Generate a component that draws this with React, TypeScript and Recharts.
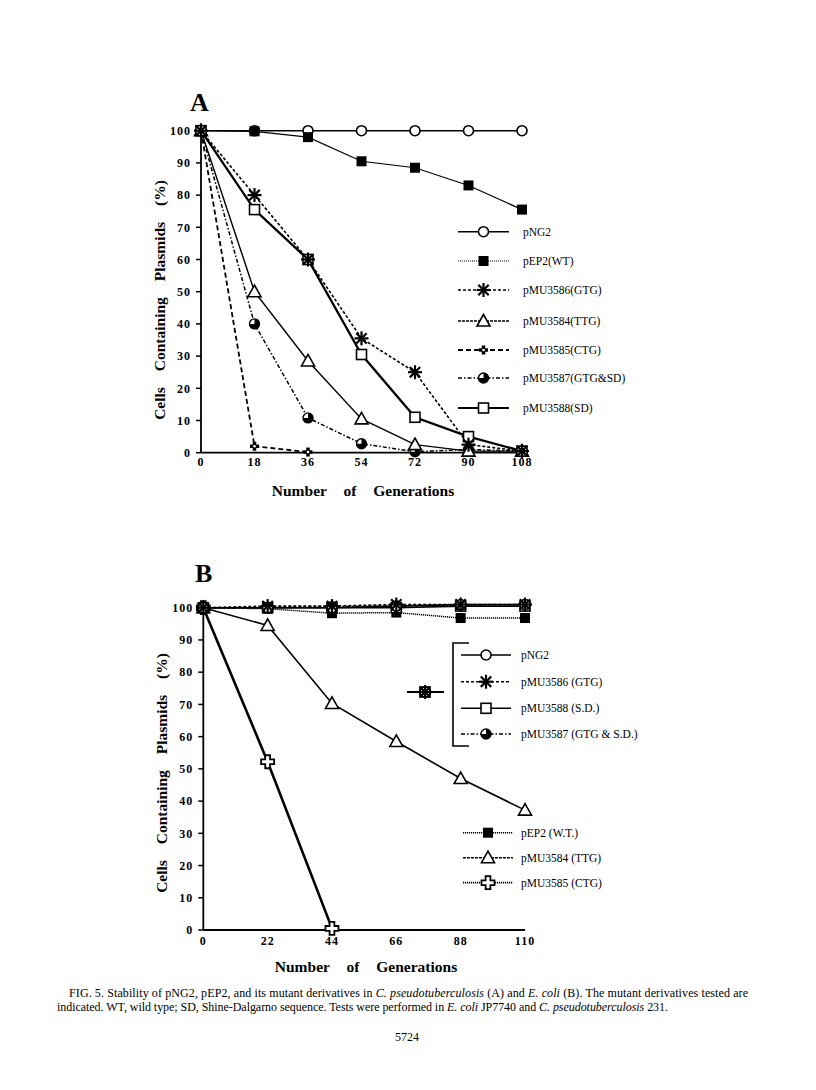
import React from 'react';
import { LineChart, Line, XAxis, YAxis } from 'recharts';

// ---------- DATA ----------
const genA = [0, 18, 36, 54, 72, 90, 108];
const pNG2_A = [100, 100, 100, 100, 100, 100, 100];
const pEP2_A = [100, 99.8, 98, 90.5, 88.5, 83, 75.5];
const pMU3586_A = [100, 80, 60, 35.5, 25, 2.5, 0.5];
const pMU3584_A = [100, 50, 28.5, 10.5, 2.5, 0.5, 0.5];
const pMU3585_A = [100, 2, 0.2, null, null, null, null];
const pMU3587_A = [100, 40, 10.8, 2.8, 0.3, 1, 0.5];
const pMU3588_A = [100, 75.5, 60, 30.5, 11, 5, 0.5];

const genB = [0, 22, 44, 66, 88, 110];
const pNG2_B = [100, 100, 100, 100.5, 101, 101];
const pMU3586_B = [100, 100.5, 100.5, 101, 101, 101];
const pMU3588_B = [100, 100, 100, 100, 100.5, 100.5];
const pMU3587_B = [100, 100, 100.3, 100.5, 100.8, 101];
const pEP2_B = [100, 99.7, 98.3, 98.5, 96.8, 96.8];
const pMU3584_B = [100, 94.5, 70.3, 58.5, 47, 37.2];
const pMU3585_B = [100, 52.2, 0.5, null, null, null];

const yTicks = [0, 10, 20, 30, 40, 50, 60, 70, 80, 90, 100];

const legendA = ['pNG2', 'pEP2(WT)', 'pMU3586(GTG)', 'pMU3584(TTG)', 'pMU3585(CTG)', 'pMU3587(GTG&SD)', 'pMU3588(SD)'];
const legendB1 = ['pNG2', 'pMU3586 (GTG)', 'pMU3588  (S.D.)', 'pMU3587 (GTG & S.D.)'];
const legendB2 = ['pEP2 (W.T.)', 'pMU3584 (TTG)', 'pMU3585 (CTG)'];

// ---------- TABLES ----------
const dataA = genA.map((g, i) => ({
  g,
  pNG2: pNG2_A[i],
  pEP2: pEP2_A[i],
  pMU3586: pMU3586_A[i],
  pMU3584: pMU3584_A[i],
  pMU3585: pMU3585_A[i],
  pMU3587: pMU3587_A[i],
  pMU3588: pMU3588_A[i],
}));
const dataB = genB.map((g, i) => ({
  g,
  pNG2: pNG2_B[i],
  pEP2: pEP2_B[i],
  pMU3586: pMU3586_B[i],
  pMU3584: pMU3584_B[i],
  pMU3585: pMU3585_B[i],
  pMU3587: pMU3587_B[i],
  pMU3588: pMU3588_B[i],
}));

// ---------- STYLES ----------
const FONT = '"Liberation Serif", "DejaVu Serif", serif';

type Style = { shape: string; w: number; dash?: string; legendDash?: string };
const stylesA: Record<string, Style> = {
  pNG2: { shape: 'circle', w: 1.6 },
  pEP2: { shape: 'square', w: 1.2, legendDash: '1 1' },
  pMU3586: { shape: 'star', w: 1.6, dash: '3 2' },
  pMU3584: { shape: 'triangle', w: 1.4, legendDash: '3 1' },
  pMU3585: { shape: 'plusDot', w: 1.8, dash: '5 3' },
  pMU3587: { shape: 'half', w: 1.5, dash: '4 2 1.5 2' },
  pMU3588: { shape: 'osquare', w: 2.3 },
};
const stylesB: Record<string, Style> = {
  pNG2: { shape: 'circle', w: 1.6 },
  pEP2: { shape: 'square', w: 1.5, dash: '1.2 0.8' },
  pMU3586: { shape: 'star', w: 1.6, dash: '3 2' },
  pMU3584: { shape: 'triangle', w: 1.6, legendDash: '3 1' },
  pMU3585: { shape: 'ocross', w: 2.6, legendDash: '1.2 0.8' },
  pMU3587: { shape: 'half', w: 1.5, dash: '4 2 1.5 2' },
  pMU3588: { shape: 'osquare', w: 1.6 },
};

function Marker({ shape, cx, cy }: { shape: string; cx: number; cy: number }) {
  switch (shape) {
    case 'circle':
      return <circle cx={cx} cy={cy} r={5} fill="#fff" stroke="#000" strokeWidth={1.6} />;
    case 'square':
      return <rect x={cx - 5} y={cy - 5} width={10} height={10} fill="#000" />;
    case 'osquare':
      return <rect x={cx - 5} y={cy - 5} width={10} height={10} fill="#fff" stroke="#000" strokeWidth={1.6} />;
    case 'triangle':
      return (
        <polygon
          points={`${cx},${cy - 6.5} ${cx - 6.5},${cy + 5} ${cx + 6.5},${cy + 5}`}
          fill="#fff"
          stroke="#000"
          strokeWidth={1.6}
        />
      );
    case 'star':
      return (
        <g stroke="#000" strokeWidth={2.2} strokeLinecap="butt">
          <line x1={cx} y1={cy - 7} x2={cx} y2={cy + 7} />
          <line x1={cx - 7} y1={cy} x2={cx + 7} y2={cy} />
          <line x1={cx - 5.2} y1={cy - 5.2} x2={cx + 5.2} y2={cy + 5.2} />
          <line x1={cx - 5.2} y1={cy + 5.2} x2={cx + 5.2} y2={cy - 5.2} />
        </g>
      );
    case 'plusDot':
      return (
        <g>
          <line x1={cx - 4.5} y1={cy} x2={cx + 4.5} y2={cy} stroke="#000" strokeWidth={3.5} />
          <line x1={cx} y1={cy - 4.5} x2={cx} y2={cy + 4.5} stroke="#000" strokeWidth={3.5} />
          <circle cx={cx} cy={cy} r={1.3} fill="#fff" />
        </g>
      );
    case 'half':
      return (
        <g>
          <circle cx={cx} cy={cy} r={5} fill="#fff" stroke="#000" strokeWidth={1.4} />
          <path d={`M${cx},${cy} L${cx},${cy - 5} A5,5 0 1 1 ${cx - 5},${cy} Z`} fill="#000" />
        </g>
      );
    case 'ocross': {
      const a = 2.4;
      const L = 6.5;
      return (
        <polygon
          points={`${cx - a},${cy - L} ${cx + a},${cy - L} ${cx + a},${cy - a} ${cx + L},${cy - a} ${cx + L},${cy + a} ${cx + a},${cy + a} ${cx + a},${cy + L} ${cx - a},${cy + L} ${cx - a},${cy + a} ${cx - L},${cy + a} ${cx - L},${cy - a} ${cx - a},${cy - a}`}
          fill="#fff"
          stroke="#000"
          strokeWidth={1.8}
        />
      );
    }
    default:
      return null;
  }
}

const makeDot = (shape: string) => (props: any) => {
  const { cx, cy, index, value } = props;
  if (cx == null || cy == null || value == null || (Array.isArray(value) && value[1] == null)) {
    return <g key={`e-${index}`} />;
  }
  return (
    <g key={`d-${index}`}>
      <Marker shape={shape} cx={cx} cy={cy} />
    </g>
  );
};

const tickStyle = { fontFamily: FONT, fontWeight: 700, fontSize: 12, fill: '#000', letterSpacing: 1 };

function series(key: string, s: Style) {
  return (
    <Line
      key={key}
      type="linear"
      dataKey={key}
      stroke="#000"
      strokeWidth={s.w}
      strokeDasharray={s.dash}
      dot={makeDot(s.shape)}
      activeDot={false}
      connectNulls={false}
      isAnimationActive={false}
    />
  );
}

function LegendRow({ s, x1, x2, y, label, tx }: { s: Style; x1: number; x2: number; y: number; label: string; tx: number }) {
  return (
    <g>
      <line x1={x1} y1={y} x2={x2} y2={y} stroke="#000" strokeWidth={Math.min(s.w, 1.8)} strokeDasharray={s.legendDash ?? s.dash} />
      <Marker shape={s.shape} cx={(x1 + x2) / 2} cy={y} />
      <text x={tx} y={y + 4} fontFamily={FONT} fontSize={11.5} fill="#000">
        {label}
      </text>
    </g>
  );
}

export default function App() {
  const orderA = ['pNG2', 'pEP2', 'pMU3585', 'pMU3587', 'pMU3584', 'pMU3588', 'pMU3586'];
  const orderB = ['pEP2', 'pMU3585', 'pMU3584', 'pMU3588', 'pMU3587', 'pNG2', 'pMU3586'];
  const legendKeysA = ['pNG2', 'pEP2', 'pMU3586', 'pMU3584', 'pMU3585', 'pMU3587', 'pMU3588'];
  const legendYA = [231.7, 261, 290, 321, 350, 378, 408];
  const legendKeysB1 = ['pNG2', 'pMU3586', 'pMU3588', 'pMU3587'];
  const legendYB1 = [655, 681.7, 708.3, 734];
  const legendKeysB2 = ['pEP2', 'pMU3584', 'pMU3585'];
  const legendYB2 = [832.7, 857.7, 882.7];

  return (
    <div style={{ position: 'absolute', left: 0, top: 0, width: 816, height: 1090, background: '#fff' }}>
      <div style={{ position: 'absolute', left: 0, top: 0 }}>
        <LineChart width={816} height={520} data={dataA} margin={{ top: 130.7, right: 294, bottom: 37.3, left: 151 }}>
          <XAxis
            dataKey="g"
            type="number"
            domain={[0, 108]}
            ticks={genA}
            height={30}
            tickSize={0}
            tickMargin={5}
            tickLine={false}
            axisLine={{ stroke: '#000', strokeWidth: 1.8 }}
            tick={tickStyle}
            interval={0}
          />
          <YAxis
            type="number"
            domain={[0, 100]}
            ticks={yTicks}
            width={50}
            tickSize={5}
            tickMargin={5}
            tickLine={{ stroke: '#000', strokeWidth: 1.5 }}
            axisLine={{ stroke: '#000', strokeWidth: 1.8 }}
            tick={tickStyle}
            interval={0}
          />
          {orderA.map((k) => series(k, stylesA[k]))}
        </LineChart>
      </div>
      <div style={{ position: 'absolute', left: 0, top: 540 }}>
        <LineChart width={816} height={460} data={dataB} margin={{ top: 64.5, right: 291, bottom: 40, left: 153.3 }}>
          <XAxis
            dataKey="g"
            type="number"
            domain={[0, 110]}
            ticks={genB}
            height={30}
            tickSize={0}
            tickMargin={6}
            tickLine={false}
            axisLine={{ stroke: '#000', strokeWidth: 1.8 }}
            tick={tickStyle}
            interval={0}
          />
          <YAxis
            type="number"
            domain={[0, 101]}
            ticks={yTicks}
            width={50}
            tickSize={5}
            tickMargin={5}
            tickLine={{ stroke: '#000', strokeWidth: 1.5 }}
            axisLine={{ stroke: '#000', strokeWidth: 1.8 }}
            tick={tickStyle}
            interval={0}
          />
          {orderB.map((k) => series(k, stylesB[k]))}
        </LineChart>
      </div>

      <svg width={816} height={1090} style={{ position: 'absolute', left: 0, top: 0, pointerEvents: 'none' }}>
        {/* Panel letters */}
        <text x={190} y={111} fontFamily={FONT} fontWeight={700} fontSize={26} fill="#000">A</text>
        <text x={195} y={582} fontFamily={FONT} fontWeight={700} fontSize={26} fill="#000">B</text>

        {/* Axis titles A */}
        <text
          x={0}
          y={0}
          transform="translate(165,300) rotate(-90)"
          textAnchor="middle"
          fontFamily={FONT}
          fontWeight={700}
          fontSize={15.5}
          style={{ wordSpacing: 12 }}
          fill="#000"
        >
          Cells Containing Plasmids (%)
        </text>
        <text x={363} y={496} textAnchor="middle" fontFamily={FONT} fontWeight={700} fontSize={15.5} style={{ wordSpacing: 13 }} fill="#000">
          Number of Generations
        </text>

        {/* Axis titles B */}
        <text
          x={0}
          y={0}
          transform="translate(167,773) rotate(-90)"
          textAnchor="middle"
          fontFamily={FONT}
          fontWeight={700}
          fontSize={15.5}
          style={{ wordSpacing: 12 }}
          fill="#000"
        >
          Cells Containing Plasmids (%)
        </text>
        <text x={366} y={972} textAnchor="middle" fontFamily={FONT} fontWeight={700} fontSize={15.5} style={{ wordSpacing: 13 }} fill="#000">
          Number of Generations
        </text>

        {/* Legend A */}
        {legendKeysA.map((k, i) => (
          <LegendRow key={k} s={stylesA[k]} x1={458} x2={509} y={legendYA[i]} label={legendA[i]} tx={523} />
        ))}

        {/* Legend B group 1 */}
        <path d="M469,643 H453 V746 H469" fill="none" stroke="#000" strokeWidth={1.6} />
        <line x1={407} y1={692} x2={444} y2={692} stroke="#000" strokeWidth={1.8} />
        {['pMU3588', 'pMU3587', 'pNG2', 'pMU3586'].map((k) => (
          <Marker key={k} shape={stylesB[k].shape} cx={425} cy={692} />
        ))}
        {legendKeysB1.map((k, i) => (
          <LegendRow key={k} s={stylesB[k]} x1={461} x2={511} y={legendYB1[i]} label={legendB1[i]} tx={521} />
        ))}

        {/* Legend B group 2 */}
        {legendKeysB2.map((k, i) => (
          <LegendRow key={k} s={stylesB[k]} x1={463} x2={513} y={legendYB2[i]} label={legendB2[i]} tx={521} />
        ))}

        {/* Caption */}
        <text x={69} y={997} fontFamily={FONT} fontSize={12} fill="#000" textLength={679} lengthAdjust="spacing">
          FIG. 5. Stability of pNG2, pEP2, and its mutant derivatives in <tspan fontStyle="italic">C. pseudotuberculosis</tspan> (A) and{' '}
          <tspan fontStyle="italic">E. coli</tspan> (B). The mutant derivatives tested are
        </text>
        <text x={57} y={1011} fontFamily={FONT} fontSize={12} fill="#000" textLength={611} lengthAdjust="spacing">
          indicated. WT, wild type; SD, Shine-Dalgarno sequence. Tests were performed in <tspan fontStyle="italic">E. coli</tspan> JP7740 and{' '}
          <tspan fontStyle="italic">C. pseudotuberculosis</tspan> 231.
        </text>
        <text x={407} y={1041} textAnchor="middle" fontFamily={FONT} fontSize={12} fill="#000">
          5724
        </text>
      </svg>
    </div>
  );
}
